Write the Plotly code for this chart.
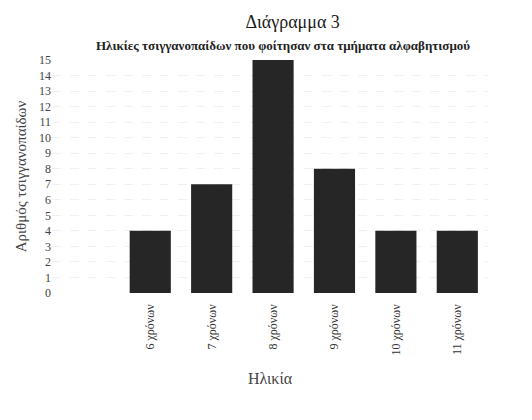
import plotly.graph_objects as go

# Ages of gypsy children attending literacy classes
ages = ['6 χρόνων', '7 χρόνων', '8 χρόνων', '9 χρόνων', '10 χρόνων', '11 χρόνων']
children = [4, 7, 15, 8, 4, 4]
y_ticks = list(range(0, 16))

serif = 'Liberation Serif'

fig = go.Figure()
fig.add_trace(go.Bar(x=ages, y=children, marker=dict(color='#262626', line=dict(width=0))))

fig.update_layout(
    width=532, height=420,
    margin=dict(l=44, r=52, t=52, b=135),
    paper_bgcolor='white', plot_bgcolor='white',
    bargap=0.33,
    showlegend=False,
    font=dict(family=serif, color='#333'),
    title=dict(text='Διάγραμμα 3', x=0.535, xanchor='center', y=0.967, yanchor='middle',
               font=dict(family=serif, size=18, color='#1a1a1a')),
)
fig.add_annotation(text='<b>Ηλικίες τσιγγανοπαίδων που φοίτησαν στα τμήματα αλφαβητισμού</b>',
                   xref='paper', yref='paper', x=0.53, y=1.0, yshift=15, showarrow=False,
                   xanchor='center', yanchor='middle', font=dict(family=serif, size=13, color='#222'))

fig.update_xaxes(range=[-1.6, 5.5], tickangle=-90, showline=False, ticks='', ticklabelstandoff=8,
                 tickfont=dict(family=serif, size=12, color='#333'),
                 title=dict(text='Ηλικία', standoff=18, font=dict(family=serif, size=16, color='#444')))
fig.update_yaxes(range=[0, 15], tickvals=y_ticks, showline=False, ticks='',
                 showgrid=True, gridcolor='#f0f0f0', griddash='dash', gridwidth=1, zeroline=False,
                 tickfont=dict(family=serif, size=12, color='#444'),
                 title=dict(text='Αριθμός τσιγγανοπαίδων', standoff=8, font=dict(family=serif, size=15, color='#444')))

fig.write_html('out.html')
